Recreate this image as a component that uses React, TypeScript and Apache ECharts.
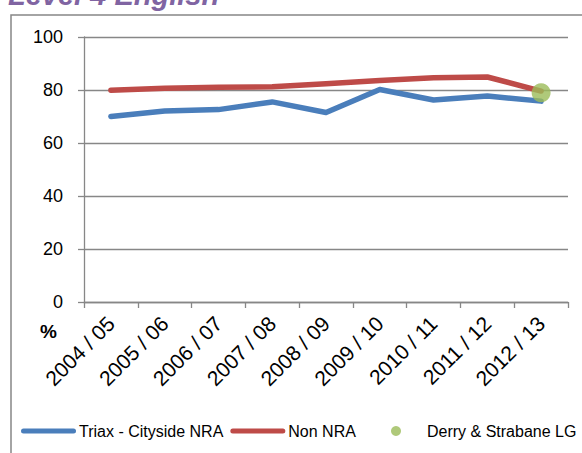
import React, { useEffect, useRef } from "react";
import * as echarts from "echarts";

const categories = [
  "2004 / 05",
  "2005 / 06",
  "2006 / 07",
  "2007 / 08",
  "2008 / 09",
  "2009 / 10",
  "2010 / 11",
  "2011 / 12",
  "2012 / 13",
];
const triaxValues = [70.0, 72.1, 72.6, 75.5, 71.5, 80.2, 76.2, 77.7, 75.8];
const nonNraValues = [79.9, 80.7, 81.0, 81.2, 82.4, 83.6, 84.6, 84.9, 79.6];
const derryPoint = { category: "2012 / 13", value: 79.0 };
const seriesNames = ["Triax - Cityside NRA", "Non NRA", "Derry & Strabane LG"];
const titleText = "Level 4 English";
const yTicks = { min: 0, max: 100, interval: 20 };

const FONT = "'Liberation Sans', Arial, sans-serif";
const GRAY = "#878787";
const BLUE = "#4A7EBB";
const RED = "#BE4B48";
const GREEN = "#9BBB59";
const LINE_ICON = "path://M2.5,0H52.5A2.5,2.5,0,0,1,52.5,5H2.5A2.5,2.5,0,0,1,2.5,0Z";

export default function App() {
  const ref = useRef<HTMLDivElement>(null);
  useEffect(() => {
    if (!ref.current) return;
    const chart = echarts.init(ref.current, null, { renderer: "svg" });
    const legendText = { fontSize: 16, color: "#000", fontFamily: FONT };
    chart.setOption({
      animation: false,
      backgroundColor: "#ffffff",
      textStyle: { fontFamily: FONT },
      grid: { left: 84, right: 14, top: 37, bottom: 151, containLabel: false },
      xAxis: {
        type: "category",
        data: categories,
        boundaryGap: true,
        axisLine: { show: true, lineStyle: { color: GRAY, width: 1.3 } },
        axisTick: { show: true, length: 6, lineStyle: { color: GRAY, width: 1.3 } },
        axisLabel: {
          interval: 0,
          rotate: 45,
          margin: 18,
          fontSize: 21,
          color: "#000",
          fontFamily: FONT,
        },
        splitLine: { show: false },
      },
      yAxis: {
        type: "value",
        min: yTicks.min,
        max: yTicks.max,
        interval: yTicks.interval,
        axisLine: { show: true, lineStyle: { color: GRAY, width: 1.3 } },
        axisTick: { show: true, length: 6, lineStyle: { color: GRAY, width: 1.3 } },
        axisLabel: { margin: 21, fontSize: 18, color: "#000", fontFamily: FONT },
        splitLine: { show: true, lineStyle: { color: GRAY, width: 1.3 } },
      },
      legend: [
        {
          left: 21,
          top: 423,
          padding: 0,
          itemWidth: 55,
          itemHeight: 10,
          itemGap: 7,
          textStyle: { ...legendText, padding: [0, 0, 0, -2] },
          data: [
            { name: seriesNames[0], icon: LINE_ICON, itemStyle: { color: BLUE } },
            { name: seriesNames[1], icon: LINE_ICON, itemStyle: { color: RED } },
          ],
        },
        {
          left: 391,
          top: 423,
          padding: 0,
          itemWidth: 10,
          itemHeight: 10,
          textStyle: { ...legendText, padding: [0, 0, 0, 21] },
          data: [{ name: seriesNames[2], icon: "circle", itemStyle: { color: GREEN } }],
        },
      ],
      series: [
        {
          name: seriesNames[0],
          type: "line",
          data: triaxValues,
          symbol: "none",
          lineStyle: { color: BLUE, width: 5.5, cap: "round", join: "round" },
          itemStyle: { color: BLUE },
          z: 2,
        },
        {
          name: seriesNames[1],
          type: "line",
          data: nonNraValues,
          symbol: "none",
          lineStyle: { color: RED, width: 5.5, cap: "round", join: "round" },
          itemStyle: { color: RED },
          z: 2,
        },
        {
          name: seriesNames[2],
          type: "scatter",
          data: [[derryPoint.category, derryPoint.value]],
          symbol: "circle",
          symbolSize: 19,
          itemStyle: { color: GREEN },
          z: 3,
        },
      ],
      graphic: [
        {
          type: "rect",
          shape: { x: 11, y: 15, width: 700, height: 600 },
          style: { fill: "none", stroke: GRAY, lineWidth: 1.5 },
          silent: true,
          z: -1,
        },
        {
          type: "text",
          style: {
            text: titleText,
            x: 8,
            y: -5,
            verticalAlign: "middle",
            font: `italic bold 29px ${FONT}`,
            fill: "#8064A2",
          },
        },
        {
          type: "text",
          style: {
            text: "%",
            x: 40,
            y: 331,
            verticalAlign: "middle",
            font: `bold 19px ${FONT}`,
            fill: "#000",
          },
        },
      ],
    });
    return () => chart.dispose();
  }, []);
  return <div ref={ref} style={{ width: 582, height: 453, position: "absolute", left: 0, top: 0 }} />;
}
